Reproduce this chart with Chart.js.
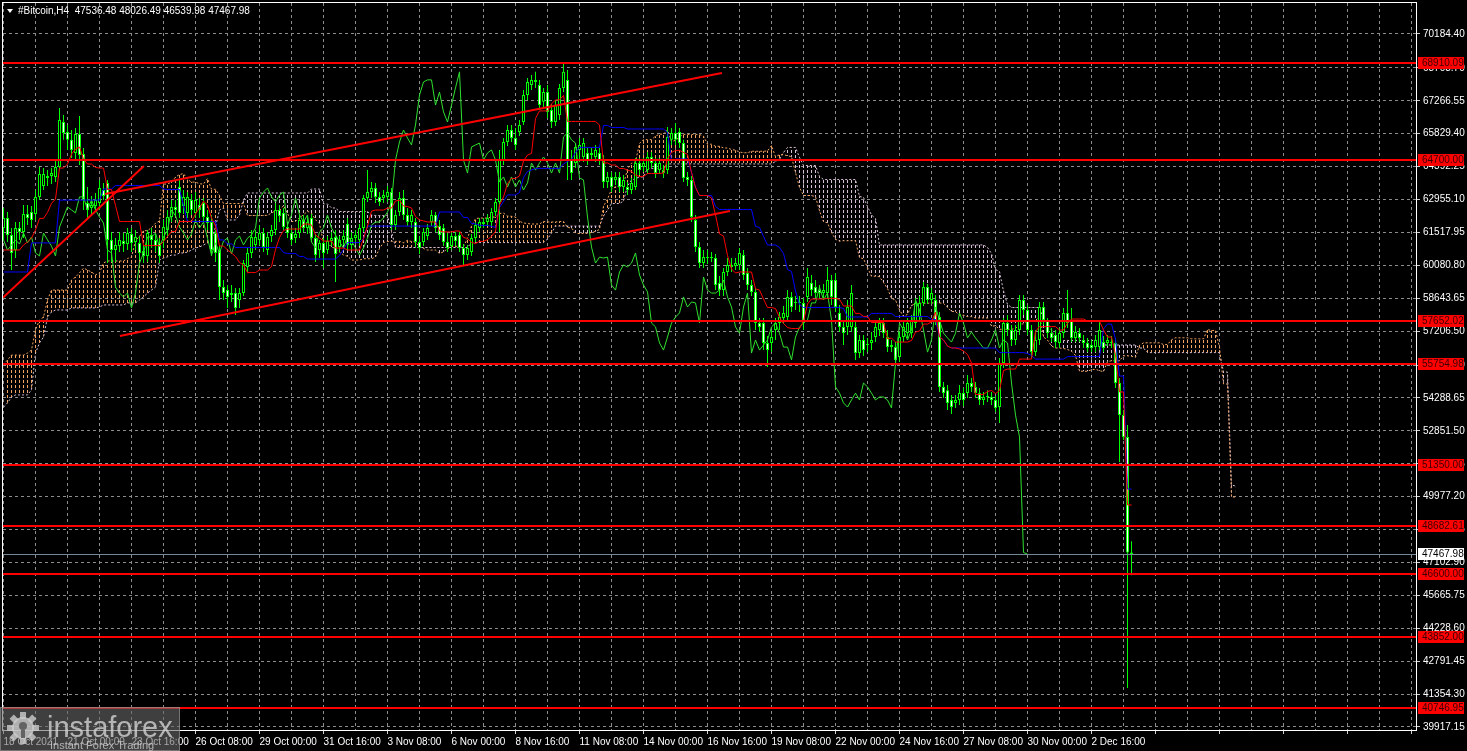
<!DOCTYPE html>
<html>
<head>
<meta charset="utf-8">
<script src="https://cdn.jsdelivr.net/npm/chart.js@4.4.1/dist/chart.umd.min.js"></script>
<style>
  html, body { margin: 0; padding: 0; background: #000; overflow: hidden; }
  canvas { display: block; }
</style>
</head>
<body>
<canvas id="chart" width="1467" height="751"></canvas>
<script>
// #Bitcoin H4 candles, bar 0 = 18 Oct 2021 08:00
const opens = [
  61710, 62150, 61410, 60750, 61710, 61540, 62320, 62410, 62320, 63070,
  63550, 63900, 63980, 63940, 64380, 66340, 65900, 65560, 64990, 65820,
  64940, 62800, 62590, 62670, 62800, 63370, 63680, 61190, 60750, 60920,
  61140, 61010, 61450, 61100, 61060, 60710, 60490, 61410, 61190, 61060,
  61190, 61620, 62190, 62630, 63500, 62670, 62370, 62930, 62370, 62720,
  62800, 62190, 61970, 61490, 60750, 59130, 59000, 58780, 58870, 58570,
  58870, 60010, 60620, 60970, 61190, 61490, 60750, 61360, 61620, 62500,
  62370, 61750, 61490, 61270, 61490, 62060, 61710, 62150, 61270, 60750,
  61060, 60750, 61140, 61320, 60880, 61190, 61890, 60970, 61270, 61190,
  61710, 63020, 63280, 63460, 63070, 63020, 63070, 63280, 61840, 62410,
  63020, 62280, 61970, 61970, 61100, 61100, 61360, 61970, 62280, 61800,
  61710, 61100, 60920, 61360, 61410, 60840, 60530, 60660, 61270, 61710,
  61890, 61970, 61970, 62410, 62850, 64680, 65470, 65990, 65640, 65900,
  66340, 67520, 67960, 68090, 67960, 67220, 67650, 66870, 66340, 66650,
  67830, 68180, 64680, 64550, 65120, 64810, 64990, 64900, 64810, 64990,
  64680, 63720, 63940, 63810, 63940, 63500, 63500, 63370, 63500, 64550,
  64380, 64240, 64810, 64550, 64240, 64240, 64240, 65560, 65860, 65900,
  65420, 63940, 63810, 62060, 60880, 60180, 60440, 60400, 60400, 59310,
  59000, 59790, 60100, 60050, 60100, 60530, 59750, 59220, 58920, 57560,
  57560, 56690, 56690, 57260, 57560, 57780, 57820, 58700, 58440, 58440,
  58440, 58700, 59310, 59130, 59000, 58870, 58870, 59440, 59440, 58000,
  57390, 57390, 57390, 57390, 56250, 56820, 56600, 56690, 56950, 57260,
  57560, 56950, 56600, 56510, 56080, 56950, 57120, 57120, 57560, 57820,
  58440, 59130, 58570, 58570, 57820, 54770, 54630, 54200, 54070, 54200,
  54500, 54500, 54940, 54770, 54500, 54200, 54330, 54330, 54200, 53890,
  55810, 57560, 57260, 56820, 57260, 58570, 58130, 57260, 56290, 56820,
  58260, 57690, 57120, 57040, 56690, 57120, 58000, 57690, 56910, 57120,
  56820, 56690, 56600, 56510, 56510, 56730, 56690, 56690, 56690, 54940,
  53540, 52580, 47536.48
]
const highs = [
  62590, 62410, 61710, 61970, 61970, 62720, 62720, 62670, 63370, 64380,
  64330, 64240, 64330, 64680, 66950, 66650, 66210, 65990, 66080, 66600,
  65210, 63500, 63110, 63240, 63810, 63680, 63810, 61540, 61270, 61540,
  61490, 61710, 61710, 61620, 61360, 60970, 61620, 61710, 61450, 61270,
  62060, 62500, 62930, 62930, 63810, 63370, 63280, 63200, 63280, 63020,
  63020, 62500, 62280, 61620, 60920, 59440, 59220, 59220, 59090, 59090,
  60310, 60840, 61620, 61620, 61840, 61710, 61540, 61840, 62800, 62720,
  62590, 61970, 61710, 61710, 62280, 62280, 62240, 62320, 61450, 61190,
  61270, 61360, 61540, 61620, 61360, 61620, 62150, 61540, 61620, 61890,
  63150, 64240, 63720, 63680, 63280, 63370, 63550, 63460, 62500, 63280,
  63370, 62590, 62500, 62150, 61360, 61710, 61890, 62500, 62410, 62060,
  61890, 61490, 61540, 61540, 61540, 61010, 60970, 61450, 61970, 62150,
  62150, 62320, 62590, 63020, 65120, 65640, 66210, 66210, 66080, 66430,
  67740, 68260, 68390, 68530, 68180, 67830, 67960, 67130, 67300, 68000,
  68920, 68610, 65120, 65420, 65640, 65640, 65210, 65210, 65340, 65210,
  64900, 64160, 64160, 64160, 64160, 64030, 63720, 63900, 64770, 64770,
  64770, 65030, 65030, 64770, 64770, 64460, 66120, 66080, 66300, 66080,
  65560, 64160, 63980, 62280, 61100, 60750, 60750, 60660, 60580, 59610,
  59960, 60400, 60400, 60400, 60840, 60750, 59960, 59440, 59090, 57780,
  57780, 56990, 57260, 57780, 58040, 58300, 59000, 58920, 58740, 58740,
  58650, 59960, 59660, 59440, 59220, 59270, 60010, 59660, 59750, 58350,
  57690, 58570, 59220, 57610, 57040, 57040, 56910, 57170, 57690, 57780,
  57780, 57260, 56820, 56730, 57170, 57610, 57780, 57910, 58650, 58740,
  59350, 59270, 59090, 58780, 58040, 54980, 54850, 54420, 54420, 54850,
  54720, 55290, 55160, 54980, 54720, 54550, 54630, 54550, 54370, 56030,
  57780, 57910, 57470, 57470, 58780, 58780, 58350, 57470, 57260, 58480,
  58480, 57780, 57340, 57260, 57340, 58220, 59000, 58220, 57430, 57340,
  57040, 56910, 56820, 57040, 57610, 56990, 57040, 56990, 56910, 55160,
  53760, 53110, 48026.49
]
const lows = [
  61190, 61100, 59880, 60400, 61190, 61270, 61840, 61710, 62060, 62930,
  63370, 63550, 63630, 63720, 64240, 65560, 65120, 64770, 64680, 64460,
  62500, 62060, 62320, 62410, 62500, 62930, 60180, 60230, 60230, 60660,
  60660, 60750, 60660, 60750, 60310, 60180, 60230, 60840, 60660, 60180,
  60840, 61360, 61970, 62240, 62150, 62320, 62150, 62280, 62150, 62150,
  61970, 61620, 60490, 60230, 58570, 58570, 58220, 58480, 57910, 58220,
  58740, 59790, 60400, 60750, 60970, 60660, 60530, 61100, 61410, 61970,
  61620, 61270, 60970, 61060, 61270, 61540, 61450, 61100, 60230, 60400,
  59960, 60580, 60920, 59350, 60660, 60970, 60750, 60750, 61100, 60920,
  61540, 62850, 63020, 62800, 62670, 62800, 62850, 61620, 61620, 62240,
  62060, 61800, 61710, 60880, 60580, 60920, 61190, 61800, 61540, 61190,
  60920, 60660, 60750, 60920, 60660, 60100, 60310, 60490, 61100, 61540,
  61710, 61800, 61800, 62240, 61540, 64460, 65290, 65470, 65120, 65730,
  66210, 67300, 67740, 67830, 66870, 66950, 66520, 66080, 66170, 66430,
  67650, 63810, 63810, 64330, 64590, 64590, 64460, 64680, 64590, 64460,
  63460, 63460, 63280, 63590, 63280, 63280, 63150, 63200, 63370, 64030,
  64160, 64070, 64330, 63900, 64070, 63900, 64070, 65340, 65340, 65210,
  63720, 63550, 61970, 60660, 59960, 59960, 60140, 60230, 59000, 58740,
  58740, 59610, 59790, 59880, 59880, 59440, 59000, 58740, 57260, 57170,
  56380, 55640, 56290, 56820, 57260, 57520, 57610, 58040, 58130, 58040,
  57260, 58480, 58740, 58650, 58650, 58650, 58650, 58350, 58040, 57170,
  56600, 57040, 57170, 55950, 56030, 56120, 56290, 56380, 56730, 56990,
  56910, 56290, 56290, 55680, 55860, 56730, 56910, 56910, 57340, 57690,
  58300, 58390, 58390, 57470, 54550, 54290, 53760, 53590, 53850, 53980,
  53940, 54290, 54550, 54290, 53980, 53980, 54110, 53980, 53670, 53190,
  55600, 56990, 56560, 56600, 57040, 57910, 57040, 56030, 56120, 56600,
  57470, 56910, 56730, 56470, 56470, 56910, 57340, 56730, 56730, 56730,
  56470, 56290, 56290, 56290, 56380, 56290, 56560, 56470, 54720, 51490,
  52450, 41620, 46539.98
]
const closes = [
  62150, 61410, 60620, 61710, 61540, 62320, 62150, 62060, 63070, 64070,
  64070, 63980, 64110, 64380, 66430, 65860, 65560, 65120, 65820, 64900,
  62930, 62500, 62720, 62930, 63460, 63110, 61190, 60750, 60970, 61190,
  61010, 61490, 61060, 61320, 60620, 60490, 61490, 61190, 60920, 60490,
  61750, 62190, 62630, 62500, 62370, 63070, 63070, 62500, 62930, 62500,
  62190, 61930, 60750, 60620, 59130, 58870, 58700, 58870, 58220, 58870,
  60180, 60620, 61320, 61320, 61490, 60880, 61320, 61620, 62500, 62240,
  61750, 61490, 61190, 61450, 62060, 61710, 61970, 61270, 60530, 61060,
  60620, 61140, 61270, 60580, 61190, 61360, 60970, 61270, 61410, 61710,
  63020, 63280, 63460, 63070, 62850, 63150, 63280, 61840, 62280, 63020,
  62280, 61970, 62280, 61100, 60840, 61540, 61710, 62280, 61710, 61410,
  61100, 60840, 61360, 61140, 60840, 60530, 60840, 61270, 61840, 61970,
  61970, 62150, 62410, 62850, 64680, 65470, 65990, 65640, 65340, 66210,
  67520, 68090, 68180, 68180, 67080, 67650, 66780, 66340, 67080, 67830,
  68530, 64680, 64110, 65250, 65340, 65420, 64680, 64990, 65120, 64680,
  63720, 63940, 63500, 63940, 63500, 63810, 63370, 63680, 64550, 64240,
  64550, 64810, 64550, 64110, 64550, 64110, 65690, 65860, 65560, 65420,
  63900, 63810, 62190, 60880, 60180, 60440, 60400, 60440, 59220, 59000,
  59790, 60100, 60010, 60180, 60620, 59660, 59220, 58920, 57560, 57390,
  56690, 56380, 56950, 57560, 57820, 58000, 58700, 58260, 58480, 58440,
  57560, 59570, 59000, 58870, 58870, 59000, 59440, 58700, 58260, 57390,
  57120, 58260, 58870, 56250, 56820, 56380, 56600, 56820, 57390, 57560,
  57120, 56510, 56510, 55950, 56950, 57390, 57560, 57690, 58440, 58440,
  59130, 58570, 58870, 57690, 54770, 54500, 54070, 53890, 54200, 54500,
  54200, 54940, 54770, 54500, 54200, 54330, 54330, 54200, 53850, 55810,
  57560, 57260, 56820, 57260, 58570, 58130, 57260, 56290, 56820, 58260,
  57690, 57120, 56910, 56730, 57120, 58000, 57560, 56910, 57170, 56910,
  56690, 56470, 56470, 56820, 57260, 56470, 56820, 56690, 54940, 53540,
  52580, 47540, 47467.98
]

// Ichimoku values at the left edge (history before bar 0 is not shown)
const tenkanStart = [60750, 60750, 60750, 60750, 60750, 60970, 61100, 61270]
const kijunStart = [
  59790, 59790, 59790, 59790, 59790, 59790, 59790, 61060, 61060, 61060,
  61060, 61060, 61060, 61060, 62930, 62930, 62930, 62930, 62930, 62930,
  62930, 62930, 62930, 62930, 62930
]
const spanAStart = [
  55730, 55950, 56160, 56160, 56160, 56160, 56250, 56380, 57260, 57690,
  57820, 58570, 59000, 59000, 59000, 59000, 59000, 59440, 59570, 59750,
  59960, 59880, 59790, 59660, 59750, 60180
]
const spanBStart = [
  53890, 54070, 54330, 54420, 54420, 54420, 54420, 54640, 56250, 56690,
  56950, 57820, 58040, 58130, 58130, 58130, 58130, 58220, 58220, 58220,
  58220, 58220, 58220, 58220, 58260, 58350, 58350, 58350, 58350, 58350,
  58350, 58440, 58440, 58440, 58570, 58700, 58870, 59000, 59130, 60310,
  60400, 60450, 60530, 60530, 60620, 60620, 60660, 60750, 60840, 60880,
  60970, 61060, 61190, 61750, 62500, 62590, 62060, 62060, 62060, 62280,
  62930, 63240, 63240, 63240, 63240, 63240, 63240, 63240, 63240, 63240,
  63240, 63240, 63240, 63240, 63240, 63240, 63240
]

// one label every 16 bars
const dateLabels = [
  '18 Oct 2021', '21 Oct 00:00', '23 Oct 16:00', '26 Oct 08:00', '29 Oct 00:00',
  '31 Oct 16:00', '3 Nov 08:00', '6 Nov 00:00', '8 Nov 16:00', '11 Nov 08:00',
  '14 Nov 00:00', '16 Nov 16:00', '19 Nov 08:00', '22 Nov 00:00', '24 Nov 16:00',
  '27 Nov 08:00', '30 Nov 00:00', '2 Dec 16:00'
]
const yTickValues = [
  70184.40, 68703.70, 67266.55, 65829.40, 64392.25, 62955.10, 61517.95, 60080.80,
  58643.65, 57206.50, 55725.80, 54288.65, 52851.50, 51414.35, 49977.20, 48540.05,
  47102.90, 45665.75, 44228.60, 42791.45, 41354.30, 39917.15
]
const levels = [68910.09, 64700.00, 57652.02, 55754.98, 51350.00, 48682.61, 46600.00, 43852.00, 40746.95]
const lastPrice = 47467.98
// [barIndex, price] pairs
const trendLines = [
  [[-0.1, 58670], [35.1, 64420]],
  [[25.4, 63200], [179.6, 68480]],
  [[29.1, 56990], [181.6, 62450]],
]
const titleText = '#Bitcoin,H4  47536.48 48026.49 46539.98 47467.98'

const SHIFT = 26
const GRID = '#8c8c8c'
const FONT = 'Liberation Sans'

function midRange(end, period) {
  const start = Math.max(0, end - period + 1)
  let hi = -Infinity
  let lo = Infinity
  for (let k = start; k <= end; k++) {
    hi = Math.max(hi, highs[k])
    lo = Math.min(lo, lows[k])
  }
  return (hi + lo) / 2
}

const tenkan = closes.map((_, i) => ({ x: i, y: i < tenkanStart.length ? tenkanStart[i] : midRange(i, 9) }))
const kijun = closes.map((_, i) => ({ x: i, y: i < kijunStart.length ? kijunStart[i] : midRange(i, 26) }))
const spanA = [
  ...spanAStart.map((v, p) => ({ x: p, y: v })),
  ...closes.map((_, i) => ({ x: i + SHIFT, y: (tenkan[i].y + kijun[i].y) / 2 })),
]
const spanB = [
  ...spanBStart.map((v, p) => ({ x: p, y: v })),
  ...closes.map((_, i) => ({ x: i + SHIFT, y: midRange(i, 52) })).filter(p => p.x >= spanBStart.length),
]
const chikou = closes.map((c, i) => ({ x: i - SHIFT, y: c })).filter(p => p.x >= 0)

const wickData = closes.map((_, i) => ({ x: i, y: [lows[i], highs[i]] }))
const bodyData = closes.map((c, i) => ({ x: i, y: [opens[i], c] }))

const xTickValues = []
for (let v = 0; v <= 352; v += 8) xTickValues.push(v)

const canvas = document.getElementById('chart')
const ctx = canvas.getContext('2d')

function hatch(color) {
  const tile = document.createElement('canvas')
  tile.width = 4
  tile.height = 5
  const g = tile.getContext('2d')
  g.fillStyle = color
  g.fillRect(3, 0, 1, 3)
  return ctx.createPattern(tile, 'repeat')
}

function axisBox(c, y, text, bg, fg) {
  c.fillStyle = bg
  c.fillRect(1418, Math.round(y) - 6, 46, 12)
  c.fillStyle = fg
  c.textBaseline = 'middle'
  c.textAlign = 'left'
  c.fillText(text, 1422, Math.round(y))
}

const decor = {
  id: 'decor',
  afterDatasetsDraw(chart) {
    const { ctx: c, chartArea: a, scales: { y } } = chart
    c.save()
    const py = Math.round(y.getPixelForValue(lastPrice)) + 0.5
    c.strokeStyle = '#778899'
    c.lineWidth = 1
    c.beginPath(); c.moveTo(a.left, py); c.lineTo(a.right, py); c.stroke()
    c.strokeStyle = '#ff0000'
    c.lineWidth = 2
    levels.forEach(v => {
      const ly = Math.round(y.getPixelForValue(v))
      c.beginPath(); c.moveTo(a.left, ly); c.lineTo(a.right, ly); c.stroke()
    })
    c.restore()
  },
  afterDraw(chart) {
    const { ctx: c, chartArea: a, scales: { y } } = chart
    c.save()
    // frame
    c.strokeStyle = '#ffffff'
    c.lineWidth = 1
    c.strokeRect(a.left - 0.5, a.top - 0.5, a.right - a.left + 1, a.bottom - a.top + 1)
    // axis boxes
    c.font = `10px "${FONT}"`
    levels.forEach(v => axisBox(c, y.getPixelForValue(v), v.toFixed(2), '#ff0000', '#3a0000'))
    axisBox(c, y.getPixelForValue(lastPrice), lastPrice.toFixed(2), '#ffffff', '#000000')
    // title
    c.fillStyle = '#ffffff'
    c.beginPath(); c.moveTo(7, 9); c.lineTo(13, 9); c.lineTo(10, 13); c.closePath(); c.fill()
    c.textBaseline = 'middle'
    c.fillText(titleText, 18, 11)
    // watermark
    c.fillStyle = 'rgba(105,105,105,0.6)'
    c.fillRect(0, 707, 180, 44)
    c.strokeStyle = 'rgba(170,170,170,0.5)'
    c.strokeRect(0.5, 707.5, 179, 43)
    const gx = 23, gy = 728
    c.fillStyle = 'rgba(205,205,205,0.8)'
    for (let k = 0; k < 8; k++) {
      c.save(); c.translate(gx, gy); c.rotate(k * Math.PI / 4); c.fillRect(-3, -16, 6, 7); c.restore()
    }
    c.beginPath(); c.arc(gx, gy, 11, 0, Math.PI * 2); c.fill()
    c.fillStyle = 'rgba(95,95,95,0.95)'
    c.beginPath(); c.arc(gx, gy - 2, 4, 0, Math.PI * 2); c.fill()
    c.fillRect(gx - 2, gy + 2, 4, 8)
    c.fillStyle = 'rgba(210,210,210,0.8)'
    c.font = `29px "${FONT}"`
    c.textBaseline = 'alphabetic'
    c.fillText('instaforex', 47, 737)
    c.font = `11px "${FONT}"`
    c.fillText('Instant Forex Trading', 50, 749)
    c.restore()
  }
}

const lineBase = { type: 'line', pointRadius: 0, borderWidth: 1, tension: 0, fill: false }

new Chart(ctx, {
  type: 'bar',
  data: {
    datasets: [
      ...trendLines.map((t, k) => ({
        ...lineBase, label: 'Trend ' + (k + 1),
        data: t.map(p => ({ x: p[0], y: p[1] })),
        borderColor: '#ff0000', borderWidth: 2, order: 0,
      })),
      { ...lineBase, label: 'Tenkan-sen', data: tenkan, borderColor: '#ff0000', order: 2 },
      { ...lineBase, label: 'Kijun-sen', data: kijun, borderColor: '#0000ff', order: 2 },
      { ...lineBase, label: 'Chikou Span', data: chikou, borderColor: '#2fe02f', order: 3 },
      {
        type: 'bar', label: 'Body', data: bodyData,
        barThickness: 3, borderWidth: 1, borderColor: '#00ff00', borderSkipped: false,
        backgroundColor: c => (closes[c.dataIndex] < opens[c.dataIndex] ? '#ffffff' : '#000000'),
        minBarLength: 1, inflateAmount: 0, grouped: false, order: 4,
      },
      {
        type: 'bar', label: 'Wick', data: wickData,
        barThickness: 1, borderWidth: 0, backgroundColor: '#00ff00',
        inflateAmount: 0, grouped: false, order: 5,
      },
      {
        ...lineBase, label: 'Senkou Span A', data: spanA,
        borderColor: '#f4a460', borderDash: [2, 2], order: 6,
        fill: { target: '+1', above: hatch('#f4a460'), below: hatch('#d8bfd8') },
      },
      { ...lineBase, label: 'Senkou Span B', data: spanB, borderColor: '#d8bfd8', borderDash: [2, 2], order: 6 },
    ],
  },
  options: {
    responsive: false,
    animation: false,
    devicePixelRatio: 1,
    events: [],
    layout: { padding: { left: 3, top: 3, right: 0, bottom: 0 } },
    plugins: { legend: { display: false }, tooltip: { enabled: false } },
    scales: {
      x: {
        type: 'linear', min: -0.125, max: 353.125, offset: false,
        afterBuildTicks: s => { s.ticks = xTickValues.map(v => ({ value: v })) },
        afterFit: s => { s.height = 21; s.paddingLeft = 0; s.paddingRight = 0 },
        grid: {
          offset: false, color: GRID, tickLength: 4,
          tickColor: c => (c.tick && c.tick.value % 16 === 0 ? '#d0d0d0' : 'rgba(0,0,0,0)'),
        },
        border: { display: false, dash: [3, 3] },
        ticks: {
          autoSkip: false, maxRotation: 0, minRotation: 0, align: 'start', padding: 2,
          color: '#ffffff', font: { family: FONT, size: 10 },
          callback: v => (v % 16 === 0 ? (dateLabels[v / 16] || '') : ''),
        },
      },
      y: {
        type: 'linear', position: 'right', min: 39786, max: 71538, beginAtZero: false,
        afterBuildTicks: s => { s.ticks = yTickValues.map(v => ({ value: v })) },
        afterFit: s => { s.width = 51; s.paddingTop = 0; s.paddingBottom = 0 },
        grid: { color: GRID, tickLength: 4, tickColor: '#d0d0d0' },
        border: { display: false, dash: [3, 3] },
        ticks: {
          padding: 3, color: '#ffffff', font: { family: FONT, size: 10 },
          callback: v => Number(v).toFixed(2),
        },
      },
    },
  },
  plugins: [decor],
})
</script>
</body>
</html>
